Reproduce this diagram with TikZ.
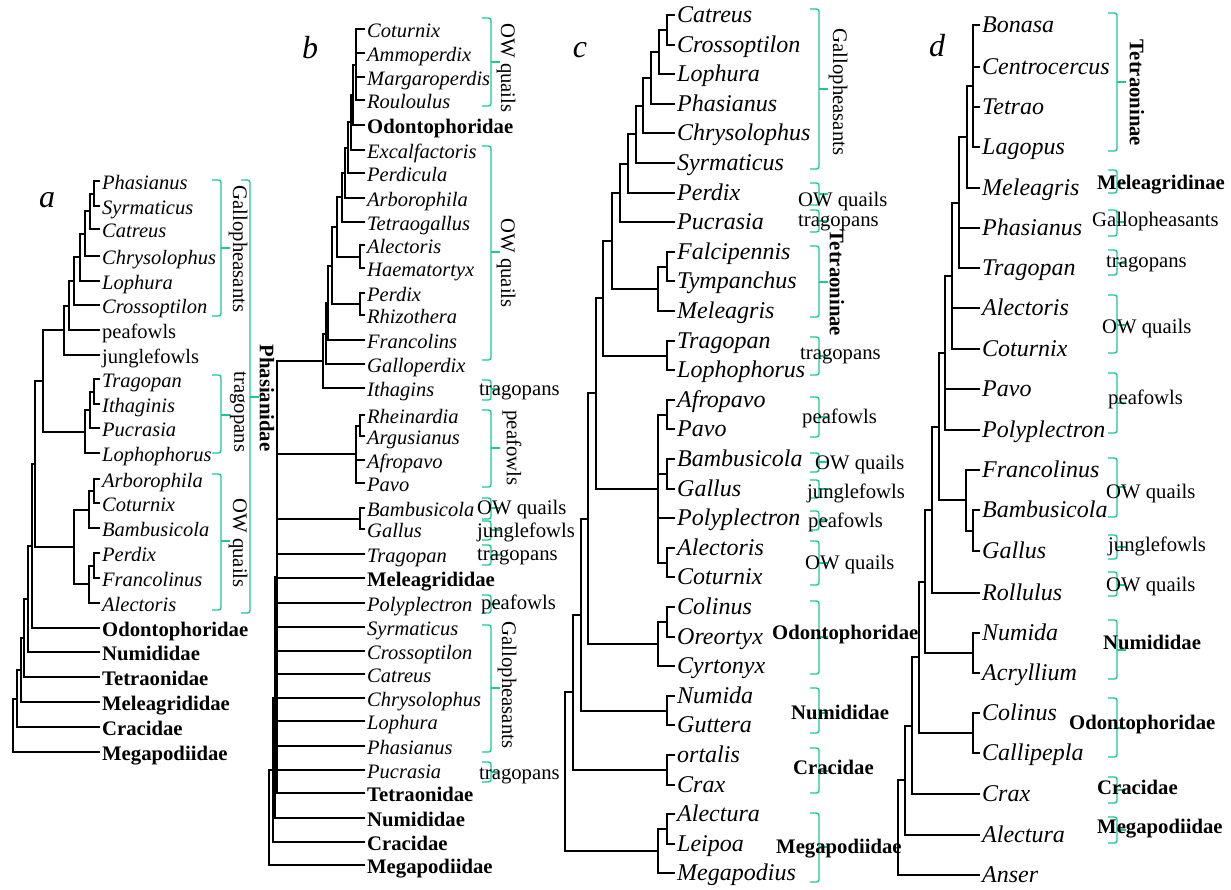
\documentclass[tikz,border=0pt]{standalone}
\usepackage{fontspec}
\setmainfont{Liberation Serif}
\usepackage{tikz}
\definecolor{cladegreen}{RGB}{30,200,150}
\newcommand{\fsmall}{\fontsize{20.5}{24}\selectfont}
\newcommand{\fbig}{\fontsize{24}{28}\selectfont}
\newcommand{\flab}{\fontsize{20.7}{24}\selectfont}
\newcommand{\fletter}{\fontsize{32}{36}\selectfont}
\newcommand{\clade}[4]{%
  \draw[brace] (#1,#2) -- ++(9,0) |- (#1,#3);
  \draw[brace] (#1+9,#4) -- ++(9,0);}

\begin{document}
\begin{tikzpicture}[x=1pt, y=-1pt,
    branch/.style={line width=1.4pt},
    brace/.style={draw=cladegreen, line width=1.4pt, rounded corners=2.5pt},
    leaf/.style={anchor=west, inner xsep=2pt, inner ysep=0pt, text height=16pt, text depth=0pt, font=\fsmall\itshape},
    bigleaf/.style={leaf, text height=15pt, font=\fbig\itshape},
    famleaf/.style={leaf, font=\flab\bfseries},
    plainleaf/.style={leaf, font=\fsmall},
    grp/.style={anchor=west, inner sep=0pt, text height=14pt, text depth=1pt, font=\flab},
    grpbf/.style={grp, font=\flab\bfseries},
    vgrp/.style={rotate=-90, inner sep=0pt, font=\flab},
    vgrpbf/.style={vgrp, font=\flab\bfseries},
    letter/.style={font=\fletter\itshape}]
  \useasboundingbox (0,0) rectangle (1231,889);

  % Panel letters
  \node[letter] (la) at (47,200) {a};
  \node[letter] (lb) at (310,48) {b};
  \node[letter] (lc) at (580,50) {c};
  \node[letter] (ld) at (937,46) {d};

  % Panel a: leaves
  \foreach \n/\y/\t in {aPhas/181/Phasianus, aSyrm/206/Syrmaticus, aCatr/229/Catreus, aChry/256/Chrysolophus,
      aLoph/281/Lophura, aCros/305/Crossoptilon, aTrag/379/Tragopan, aItha/404/Ithaginis, aPucr/428/Pucrasia,
      aLopo/453/Lophophorus, aArbo/479/Arborophila, aCotu/503/Coturnix, aBamb/528/Bambusicola, aPerd/553/Perdix,
      aFran/578/Francolinus, aAlec/603/Alectoris}
    \node[leaf] (\n) at (100,\y) {\t};
  \node[plainleaf] (aPeaf) at (100,330) {peafowls};
  \node[plainleaf] (aJung) at (100,355) {junglefowls};
  \foreach \n/\y/\t in {aOdon/628/Odontophoridae, aNumi/652/Numididae, aTetr/677/Tetraonidae,
      aMele/702/Meleagrididae, aCrac/727/Cracidae, aMega/752/Megapodiidae}
    \node[famleaf] (\n) at (100,\y) {\t};

  % Panel a: inner nodes and branches
  \foreach \n/\x/\y in {a1/94/194, a2/90/211, a3/85/234, a4/80/257, a5/74/281, a6/69/306, a7/64/330,
      a8/94/392, a9/90/410, a10/85/432, a11/43/381, a12/94/491, a13/89/510, a14/94/566, a15/89/584,
      a16/74/547, a17/35/464, a18/32/546, a19/28/599, a20/24/638, a21/21/670, a22/17/699, a23/13/725}
    \coordinate (\n) at (\x,\y);
  \foreach \p/\c in {a1/aPhas, a1/aSyrm, a2/a1, a2/aCatr, a3/a2, a3/aChry, a4/a3, a4/aLoph, a5/a4, a5/aCros,
      a6/a5, a6/aPeaf, a7/a6, a7/aJung, a8/aTrag, a8/aItha, a9/a8, a9/aPucr, a10/a9, a10/aLopo, a11/a7, a11/a10,
      a12/aArbo, a12/aCotu, a13/a12, a13/aBamb, a14/aPerd, a14/aFran, a15/a14, a15/aAlec, a16/a13, a16/a15,
      a17/a11, a17/a16, a18/a17, a18/aOdon, a19/a18, a19/aNumi, a20/a19, a20/aTetr, a21/a20, a21/aMele,
      a22/a21, a22/aCrac, a23/a22, a23/aMega}
    \draw[branch] (\p) |- (\c);

  % Panel a: groups
  \clade{212}{180}{316}{248}
  \node[vgrp] (aGalLab) at (238,249) {Gallopheasants};
  \clade{212}{375}{453}{415}
  \node[vgrp] (aTraLab) at (238,412) {tragopans};
  \clade{212}{474}{610}{541}
  \node[vgrp] (aOWLab) at (238,543) {OW quails};
  \clade{241}{180}{613}{397}
  \node[vgrpbf] (aPhaLab) at (267,398) {Phasianidae};

  % Panel b: leaves
  \foreach \n/\y/\t in {bCotu/29/Coturnix, bAmmo/53/Ammoperdix, bMarg/77/Margaroperdis, bRoul/100/Rouloulus,
      bExca/150/Excalfactoris, bPerd/173/Perdicula, bArbo/198/Arborophila, bTetr/222/Tetraogallus,
      bAlec/245/Alectoris, bHaem/268/Haematortyx, bPerx/293/Perdix, bRhiz/315/Rhizothera, bFran/340/Francolins,
      bGall/364/Galloperdix, bItha/388/Ithagins, bRhei/415/Rheinardia, bArgu/436/Argusianus, bAfro/460/Afropavo,
      bPavo/483/Pavo, bBamb/508/Bambusicola, bGals/529/Gallus, bTrag/554/Tragopan, bPoly/603/Polyplectron,
      bSyrm/627/Syrmaticus, bCros/651/Crossoptilon, bCatr/674/Catreus, bChry/698/Chrysolophus,
      bLoph/721/Lophura, bPhas/746/Phasianus, bPucr/770/Pucrasia}
    \node[leaf] (\n) at (365,\y) {\t};
  \foreach \n/\y/\t in {bOdon/125/Odontophoridae, bMele/578/Meleagrididae, bTetn/793/Tetraonidae,
      bNumi/818/Numididae, bCrac/842/Cracidae, bMega/865/Megapodiidae}
    \node[famleaf] (\n) at (365,\y) {\t};

  % Panel b: inner nodes and branches
  \foreach \n/\x/\y in {b1/356/65, b2/353/95, b3/351/122, b4/348/148, b5/345/173, b6/342/197,
      b7/360/257, b8/337/227, b9/360/304, b10/332/266, b11/328/303, b12/326/334, b13/323/361,
      b14/360/426, b15/356/454, b16/360/519, b17/277/577, b18/275/698, b19/273/770, b20/269/818}
    \coordinate (\n) at (\x,\y);
  \foreach \p/\c in {b1/bCotu, b1/bAmmo, b1/bMarg, b1/bRoul, b2/b1, b2/bOdon, b3/b2, b3/bExca, b4/b3, b4/bPerd,
      b5/b4, b5/bArbo, b6/b5, b6/bTetr, b7/bAlec, b7/bHaem, b8/b6, b8/b7, b9/bPerx, b9/bRhiz, b10/b8, b10/b9,
      b11/b10, b11/bFran, b12/b11, b12/bGall, b13/b12, b13/bItha, b14/bRhei, b14/bArgu, b15/b14, b15/bAfro,
      b15/bPavo, b16/bBamb, b16/bGals, b17/b13, b17/b15, b17/b16, b17/bTrag, b17/bMele, b17/bPoly, b17/bSyrm,
      b17/bCros, b17/bCatr, b17/bChry, b17/bLoph, b17/bPhas, b17/bPucr, b17/bTetn, b18/b17, b18/bNumi,
      b19/b18, b19/bCrac, b20/b19, b20/bMega}
    \draw[branch] (\p) |- (\c);

  % Panel b: groups
  \clade{482}{18}{106}{62}
  \node[vgrp] (bOW1Lab) at (506,68) {OW quails};
  \clade{482}{146}{360}{252}
  \node[vgrp] (bOW2Lab) at (506,263) {OW quails};
  \clade{482}{380}{400}{389}
  \node[grp] (bTr1Lab) at (479,389) {tragopans};
  \clade{482}{410}{487}{448}
  \node[vgrp] (bPeaLab) at (512,448) {peafowls};
  \clade{482}{498}{519}{508}
  \node[grp] (bOW3Lab) at (477,508) {OW quails};
  \clade{482}{521}{540}{530}
  \node[grp] (bJunLab) at (477,531) {junglefowls};
  \clade{482}{545}{565}{555}
  \node[grp] (bTr2Lab) at (477,554) {tragopans};
  \clade{482}{595}{613}{604}
  \node[grp] (bPe2Lab) at (481,603) {peafowls};
  \clade{482}{625}{752}{688}
  \node[vgrp] (bGalLab) at (507,685) {Gallopheasants};
  \clade{482}{762}{782}{772}
  \node[grp] (bTr3Lab) at (479,773) {tragopans};

  % Panel c: leaves
  \foreach \n/\y/\t in {cCatr/15/Catreus, cCros/45/Crossoptilon, cLoph/74/Lophura, cPhas/104/Phasianus,
      cChry/133/Chrysolophus, cSyrm/163/Syrmaticus, cPerd/193/Perdix, cPucr/222/Pucrasia, cFalc/252/Falcipennis,
      cTymp/281/Tympanchus, cMele/311/Meleagris, cTrag/341/Tragopan, cLopo/370/Lophophorus, cAfro/400/Afropavo,
      cPavo/429/Pavo, cBamb/459/Bambusicola, cGall/489/Gallus, cPoly/518/Polyplectron, cAlec/548/Alectoris,
      cCotu/577/Coturnix, cColi/607/Colinus, cOreo/637/Oreortyx, cCyrt/666/Cyrtonyx, cNumi/696/Numida,
      cGutt/725/Guttera, cOrta/755/ortalis, cCrax/785/Crax, cAlet/814/Alectura, cLeip/844/Leipoa,
      cMegp/873/Megapodius}
    \node[bigleaf] (\n) at (675,\y) {\t};

  % Panel c: inner nodes and branches
  \foreach \n/\x/\y in {c1/667/30, c2/659/52, c3/651/78, c4/643/106, c5/636/134, c6/628/164, c7/620/193,
      c8/667/267, c9/658/289, c10/612/241, c11/667/356, c12/603/298, c13/667/415, c14/667/474,
      c15/667/563, c16/658/489, c17/596/393, c18/667/622, c19/658/644, c20/588/519, c21/667/711,
      c22/581/615, c23/667/770, c24/573/692, c25/667/829, c26/658/851, c27/565/772}
    \coordinate (\n) at (\x,\y);
  \foreach \p/\c in {c1/cCatr, c1/cCros, c2/c1, c2/cLoph, c3/c2, c3/cPhas, c4/c3, c4/cChry, c5/c4, c5/cSyrm,
      c6/c5, c6/cPerd, c7/c6, c7/cPucr, c8/cFalc, c8/cTymp, c9/c8, c9/cMele, c10/c7, c10/c9, c11/cTrag,
      c11/cLopo, c12/c10, c12/c11, c13/cAfro, c13/cPavo, c14/cBamb, c14/cGall, c15/cAlec, c15/cCotu,
      c16/c13, c16/c14, c16/cPoly, c16/c15, c17/c12, c17/c16, c18/cColi, c18/cOreo, c19/c18, c19/cCyrt,
      c20/c17, c20/c19, c21/cNumi, c21/cGutt, c22/c20, c22/c21, c23/cOrta, c23/cCrax, c24/c22, c24/c23,
      c25/cAlet, c25/cLeip, c26/c25, c26/cMegp, c27/c24, c27/c26}
    \draw[branch] (\p) |- (\c);

  % Panel c: groups
  \clade{810}{9}{169}{89}
  \node[vgrp] (cGalLab) at (838,92) {Gallopheasants};
  \clade{810}{183}{205}{194}
  \node[grp] (cOW1Lab) at (798,200) {OW quails};
  \clade{810}{210}{232}{221}
  \node[grp] (cTr1Lab) at (798,220) {tragopans};
  \clade{810}{246}{317}{282}
  \node[vgrpbf] (cTetLab) at (837,283) {Tetraoninae};
  \clade{810}{337}{375}{356}
  \node[grp] (cTr2Lab) at (800,353) {tragopans};
  \clade{810}{397}{437}{417}
  \node[grp] (cPe1Lab) at (802,417) {peafowls};
  \clade{810}{453}{472}{462}
  \node[grp] (cOW2Lab) at (815,463) {OW quails};
  \clade{810}{480}{498}{489}
  \node[grp] (cJunLab) at (807,492) {junglefowls};
  \clade{810}{511}{530}{520}
  \node[grp] (cPe2Lab) at (808,521) {peafowls};
  \clade{810}{541}{585}{563}
  \node[grp] (cOW3Lab) at (805,563) {OW quails};
  \clade{810}{601}{674}{637}
  \node[grpbf] (cOdoLab) at (772,633) {Odontophoridae};
  \clade{810}{688}{733}{713}
  \node[grpbf] (cNumLab) at (791,713) {Numididae};
  \clade{810}{748}{793}{771}
  \node[grpbf] (cCraLab) at (793,768) {Cracidae};
  \clade{810}{813}{882}{847}
  \node[grpbf] (cMegLab) at (776,847) {Megapodiidae};

  % Panel d: leaves
  \foreach \n/\y/\t in {dBona/25/Bonasa, dCent/67/Centrocercus, dTetr/107/Tetrao, dLago/147/Lagopus,
      dMele/188/Meleagris, dPhas/228/Phasianus, dTrag/268/Tragopan, dAlec/308/Alectoris, dCotu/349/Coturnix,
      dPavo/389/Pavo, dPoly/430/Polyplectron, dFran/470/Francolinus, dBamb/510/Bambusicola, dGall/551/Gallus,
      dRoll/593/Rollulus, dNumi/633/Numida, dAcry/673/Acryllium, dColi/713/Colinus, dCall/753/Callipepla,
      dCrax/794/Crax, dAlet/835/Alectura, dAnse/875/Anser}
    \node[bigleaf] (\n) at (980,\y) {\t};

  % Panel d: inner nodes and branches
  \foreach \n/\x/\y in {d1/973/86, d2/967/137, d3/959/203, d4/952/276, d5/945/353, d6/973/531,
      d7/966/500, d8/939/427, d9/932/510, d10/973/653, d11/925/582, d12/973/733, d13/919/657,
      d14/912/726, d15/905/780, d16/898/828}
    \coordinate (\n) at (\x,\y);
  \foreach \p/\c in {d1/dBona, d1/dCent, d1/dTetr, d1/dLago, d2/d1, d2/dMele, d3/d2, d3/dPhas, d3/dTrag,
      d4/d3, d4/dAlec, d4/dCotu, d5/d4, d5/dPavo, d5/dPoly, d6/dBamb, d6/dGall, d7/dFran, d7/d6, d8/d5,
      d8/d7, d9/d8, d9/dRoll, d10/dNumi, d10/dAcry, d11/d9, d11/d10, d12/dColi, d12/dCall, d13/d11,
      d13/d12, d14/d13, d14/dCrax, d15/d14, d15/dAlet, d16/d15, d16/dAnse}
    \draw[branch] (\p) |- (\c);

  % Panel d: groups
  \clade{1108}{13}{151}{82}
  \node[vgrpbf] (dTetLab) at (1137,93) {Tetraoninae};
  \clade{1108}{170}{193}{183}
  \node[grpbf] (dMelLab) at (1097,183) {Meleagridinae};
  \clade{1108}{210}{236}{222}
  \node[grp] (dGalLab) at (1092,220) {Gallopheasants};
  \clade{1108}{250}{275}{263}
  \node[grp] (dTraLab) at (1106,261) {tragopans};
  \clade{1108}{295}{353}{325}
  \node[grp] (dOW1Lab) at (1102,327) {OW quails};
  \clade{1108}{373}{433}{403}
  \node[grp] (dPeaLab) at (1108,398) {peafowls};
  \clade{1108}{458}{517}{487}
  \node[grp] (dOW2Lab) at (1106,492) {OW quails};
  \clade{1108}{535}{559}{547}
  \node[grp] (dJunLab) at (1108,545) {junglefowls};
  \clade{1108}{572}{596}{585}
  \node[grp] (dOW3Lab) at (1106,585) {OW quails};
  \clade{1108}{620}{679}{650}
  \node[grpbf] (dNumLab) at (1103,643) {Numididae};
  \clade{1108}{698}{757}{728}
  \node[grpbf] (dOdoLab) at (1069,723) {Odontophoridae};
  \clade{1108}{777}{803}{790}
  \node[grpbf] (dCraLab) at (1097,788) {Cracidae};
  \clade{1108}{817}{843}{830}
  \node[grpbf] (dMegLab) at (1097,827) {Megapodiidae};
\end{tikzpicture}
\end{document}
